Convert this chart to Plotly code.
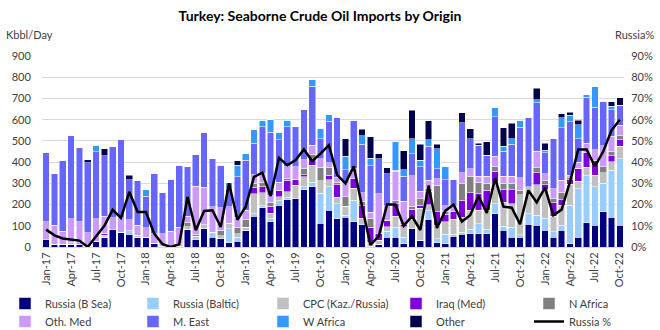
import plotly.graph_objects as go

MON = ["Jan", "Feb", "Mar", "Apr", "May", "Jun", "Jul", "Aug", "Sep", "Oct", "Nov", "Dec"]
months = [f"{m}-{y:02d}" for y in range(17, 23) for m in MON][:70]
tick_labels = months[::3]

russia_bsea = [35, 14, 14, 13, 11, 3, 28, 47, 82, 69, 60, 47,
               47, 18, 3, 0, 3, 83, 35, 86, 47, 39, 19, 28,
               79, 145, 185, 118, 197, 223, 228, 270, 283, 113, 173, 134,
               140, 118, 105, 3, 13, 45, 47, 16, 86, 32, 130, 19,
               15, 50, 60, 63, 63, 63, 157, 79, 47, 47, 107, 102,
               80, 47, 79, 16, 45, 115, 102, 165, 141, 102]
russia_baltic = [0, 0, 0, 0, 0, 0, 0, 0, 0, 0, 17, 0,
                 0, 0, 0, 0, 0, 0, 0, 0, 23, 0, 68, 19,
                 0, 12, 10, 15, 20, 12, 0, 15, 22, 140, 110, 70,
                 10, 102, 0, 0, 0, 30, 47, 30, 0, 0, 40, 20,
                 45, 10, 10, 20, 47, 20, 47, 18, 47, 10, 50, 47,
                 55, 24, 23, 180, 230, 220, 181, 135, 220, 315]
cpc = [0, 0, 0, 8, 0, 0, 0, 8, 0, 0, 0, 8,
       0, 0, 0, 3, 12, 12, 15, 20, 0, 15, 26, 16,
       15, 95, 60, 27, 20, 25, 62, 45, 80, 60, 35, 30,
       43, 58, 30, 20, 18, 20, 50, 50, 45, 150, 30, 63,
       60, 70, 71, 90, 63, 90, 95, 115, 110, 190, 126, 145,
       134, 75, 95, 100, 35, 40, 55, 50, 40, 58]
iraq = [0, 0, 0, 0, 0, 0, 0, 9, 0, 0, 0, 0,
        0, 0, 0, 0, 0, 0, 0, 0, 0, 0, 0, 0,
        0, 30, 30, 32, 28, 55, 30, 10, 30, 0, 20, 60,
        0, 44, 60, 70, 32, 30, 60, 10, 47, 15, 60, 63,
        35, 35, 79, 82, 78, 94, 58, 58, 66, 0, 0, 56,
        24, 63, 26, 20, 60, 70, 70, 0, 30, 31]
n_africa = [0, 0, 0, 0, 0, 0, 0, 0, 0, 0, 0, 0,
            0, 0, 0, 0, 0, 20, 10, 0, 0, 24, 0, 31,
            36, 18, 20, 20, 0, 7, 0, 30, 20, 63, 35, 10,
            43, 0, 20, 40, 0, 0, 13, 0, 15, 30, 15, 126,
            10, 0, 79, 78, 54, 34, 20, 31, 31, 20, 0, 23,
            20, 19, 32, 10, 0, 0, 0, 27, 20, 21]
oth_med = [83, 88, 61, 113, 107, 65, 106, 80, 55, 68, 52, 47,
           44, 45, 60, 72, 79, 30, 226, 176, 119, 108, 76, 47,
           43, 40, 40, 30, 40, 55, 57, 40, 45, 40, 25, 25,
           63, 48, 40, 30, 189, 70, 140, 110, 142, 35, 40, 31,
           30, 24, 50, 36, 28, 32, 51, 32, 32, 60, 0, 78,
           32, 47, 59, 12, 30, 45, 50, 100, 70, 47]
m_east = [327, 244, 331, 390, 349, 328, 314, 285, 338, 369, 189, 213,
          148, 283, 196, 244, 291, 235, 151, 259, 228, 199, 86, 189,
          236, 150, 222, 298, 200, 190, 192, 239, 278, 94, 195, 281,
          66, 227, 230, 220, 165, 150, 5, 117, 105, 115, 160, 47,
          122, 129, 236, 142, 146, 99, 185, 118, 151, 237, 325, 228,
          100, 236, 249, 252, 110, 215, 201, 210, 125, 94]
w_africa = [0, 0, 0, 0, 0, 0, 31, 0, 0, 0, 0, 0,
            31, 0, 0, 0, 0, 0, 0, 0, 0, 0, 27, 55,
            31, 63, 30, 60, 33, 30, 0, 0, 31, 48, 31, 0,
            63, 0, 40, 35, 0, 0, 133, 32, 71, 32, 30, 95,
            60, 0, 0, 0, 0, 0, 43, 24, 27, 33, 0, 16,
            10, 0, 47, 31, 67, 13, 96, 0, 18, 0]
other = [0, 0, 0, 0, 0, 16, 0, 35, 0, 0, 20, 0,
         0, 0, 0, 0, 0, 0, 0, 0, 0, 0, 0, 21,
         0, 0, 0, 0, 0, 0, 0, 0, 0, 0, 0, 0,
         83, 0, 30, 101, 23, 29, 0, 88, 134, 75, 90, 20,
         0, 0, 47, 47, 11, 63, 0, 86, 71, 0, 0, 52,
         35, 0, 19, 13, 20, 0, 0, 0, 20, 36]
russia_pct = [8.2, 5.5, 4.0, 3.5, 3.0, 0.0, 5.0, 10.0, 17.5, 13.7, 26.0, 16.5,
              16.5, 6.3, 1.3, 0.0, 1.3, 23.6, 7.9, 17.0, 17.3, 9.4, 30.0, 12.8,
              19.0, 33.0, 35.0, 24.0, 42.0, 38.5, 41.0, 46.0, 40.5, 44.0, 48.0, 34.0,
              30.0, 38.0, 19.0, 1.0, 5.0, 20.0, 20.0, 10.0, 14.5, 8.0, 29.0, 9.0,
              17.0, 20.0, 12.0, 15.0, 24.0, 16.0, 32.5, 19.0, 18.5, 10.7, 26.7, 21.0,
              28.0, 15.0, 17.6, 30.7, 46.0, 46.0, 38.0, 45.0, 55.0, 60.0]

# (name, values, colour, legend column, legend row)
series = [
    ("Russia (B Sea)", russia_bsea, "#000080", 0, 0),
    ("Russia (Baltic)", russia_baltic, "#99CCFF", 1, 0),
    ("CPC (Kaz./Russia)", cpc, "#C0C0C0", 2, 0),
    ("Iraq (Med)", iraq, "#7F00DF", 3, 0),
    ("N Africa", n_africa, "#808080", 4, 0),
    ("Oth. Med", oth_med, "#CC99FF", 0, 1),
    ("M. East", m_east, "#6666FF", 1, 1),
    ("W Africa", w_africa, "#3399FF", 2, 1),
    ("Other", other, "#00004D", 3, 1),
]

FONT = "Lato, 'Open Sans', sans-serif"
TXT = "#404040"

# page geometry (pixels)
W, H = 660, 330
ML, MR, MT, MB = 42, 36, 56, 83
PW, PH = W - ML - MR, H - MT - MB
col_left = [5, 133, 263, 396, 529]
row_top = [289, 307]


def legend_box(col, row):
    return dict(orientation="v", xref="paper", yref="paper",
                x=(col_left[col] - ML) / PW, xanchor="left",
                y=(H - MB - row_top[row]) / PH, yanchor="top",
                traceorder="normal", font=dict(family=FONT, size=11, color=TXT),
                bgcolor="rgba(0,0,0,0)", borderwidth=0)


fig = go.Figure()
legends = {}
k = 0
for name, vals, col, c, r in series:
    k += 1
    lid = "legend" if k == 1 else f"legend{k}"
    legends[lid] = legend_box(c, r)
    fig.add_trace(go.Bar(x=months, y=vals, name=name, legend=lid,
                         marker=dict(color=col, line=dict(color="white", width=0.5))))
k += 1
lid = f"legend{k}"
legends[lid] = legend_box(4, 1)
fig.add_trace(go.Scatter(x=months, y=russia_pct, name="Russia %", mode="lines",
                         yaxis="y2", legend=lid,
                         line=dict(color="black", width=2.5)))

fig.update_layout(
    width=W, height=H,
    margin=dict(l=ML, r=MR, t=MT, b=MB, autoexpand=False),
    barmode="stack", bargap=0.2,
    paper_bgcolor="white", plot_bgcolor="white",
    font=dict(family=FONT, size=11, color=TXT),
    showlegend=True,
    title=dict(text="<b>Turkey: Seaborne Crude Oil Imports by Origin</b>",
               x=320 / W, xanchor="center", xref="container",
               y=1 - 16 / H, yanchor="middle", yref="container",
               font=dict(family=FONT, size=14, color="#000000")),
    xaxis=dict(type="category", tickmode="array", tickvals=tick_labels, ticktext=tick_labels,
               tickangle=-90, showgrid=False, showline=True, linecolor="#d9d9d9", linewidth=1,
               ticks="", tickfont=dict(size=11, color=TXT)),
    yaxis=dict(range=[0, 900], dtick=100, showgrid=True, gridcolor="#d9d9d9", gridwidth=1,
               zeroline=False, ticks="outside", ticklen=8, tickcolor="rgba(0,0,0,0)",
               tickfont=dict(size=11, color=TXT)),
    yaxis2=dict(range=[0, 90], dtick=10, ticksuffix="%", overlaying="y", side="right",
                showgrid=False, zeroline=False, ticks="outside", ticklen=4,
                tickcolor="rgba(0,0,0,0)", tickfont=dict(size=11, color=TXT)),
    annotations=[
        dict(text="Kbbl/Day", xref="paper", yref="paper", x=(4 - ML) / PW, xanchor="left",
             y=1 + 21 / PH, yanchor="middle", showarrow=False, font=dict(size=11, color=TXT)),
        dict(text="Russia%", xref="paper", yref="paper", x=1 + 32 / PW, xanchor="right",
             y=1 + 21 / PH, yanchor="middle", showarrow=False, font=dict(size=11, color=TXT)),
    ],
)
fig.update_layout(**legends)

fig.write_html("out.html", config={"displayModeBar": False})
